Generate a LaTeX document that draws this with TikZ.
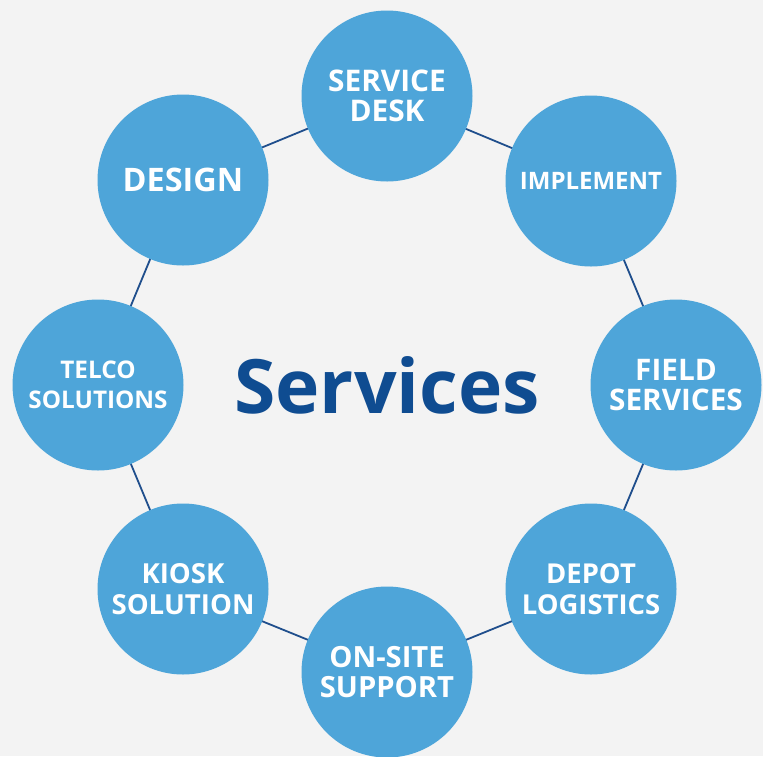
\documentclass[tikz,border=0pt]{standalone}
\usepackage{fontspec}
\setmainfont{Open Sans}
\definecolor{bgc}{HTML}{F3F3F3}
\definecolor{circc}{HTML}{4EA5D9}
\definecolor{linec}{HTML}{1F4E8C}
\definecolor{titlec}{HTML}{0F4C91}
\newcommand{\svfont}[1]{\bfseries\fontsize{#1}{30.5}\selectfont}
\tikzset{
  svc/.style={circle, fill=circc, minimum size=171pt, inner sep=0pt, text=white,
    font=\svfont{29.5}, align=center},
  ring/.style={draw=linec, line width=1.8pt}
}
\begin{document}
\begin{tikzpicture}[x=1pt,y=-1pt]
\useasboundingbox (0,0) rectangle (763,756);
\fill[bgc] (0,0) rectangle (763,756);
\clip (0,0) rectangle (763,756);
\coordinate (c1) at (387,96);
\coordinate (c2) at (591,181);
\coordinate (c3) at (676,385);
\coordinate (c4) at (591,589);
\coordinate (c5) at (387,672);
\coordinate (c6) at (183,589);
\coordinate (c7) at (98,385);
\coordinate (c8) at (183,180);
\draw[ring] (c1) -- (c2) -- (c3) -- (c4) -- (c5) -- (c6) -- (c7) -- (c8) -- cycle;
\node[svc, font=\svfont{29.8}] (desk) at (c1) {SERVICE\\DESK};
\node[svc, font=\svfont{24}] (impl) at (c2) {IMPLEMENT};
\node[svc, font=\svfont{29.7}] (field) at (c3) {FIELD\\SERVICES};
\node[svc, font=\svfont{27.4}] (depot) at (c4) {DEPOT\\LOGISTICS};
\node[svc, font=\svfont{29.2}] (onsite) at (c5) {ON-SITE\\SUPPORT};
\node[svc, font=\svfont{27.6}] (kiosk) at (c6) {KIOSK\\SOLUTION};
\node[svc, font=\svfont{24.3}] (telco) at (c7) {TELCO\\SOLUTIONS};
\node[svc, font=\svfont{32.4}] (design) at (c8) {DESIGN};
\node[text=titlec, font=\bfseries\fontsize{75}{80}\selectfont, inner sep=0pt] (title) at (387,385) {Services};
\end{tikzpicture}
\end{document}
